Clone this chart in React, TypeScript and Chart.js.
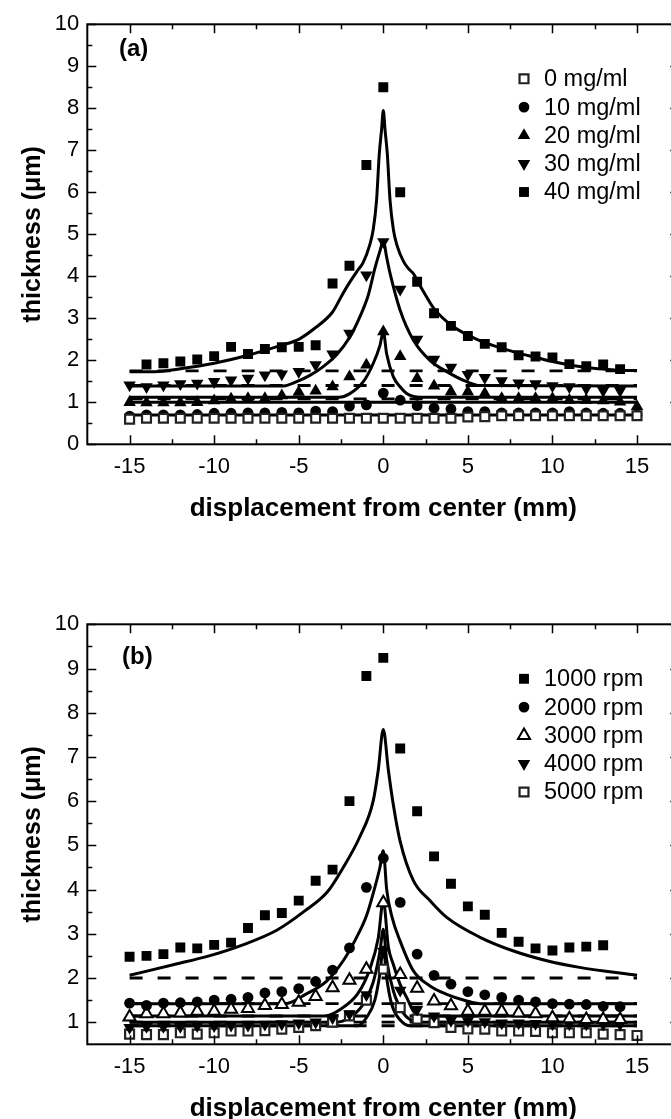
import React, { useEffect, useRef } from 'react';
import { Chart, registerables } from 'chart.js';
Chart.register(...registerables);

const FONT = "'Liberation Sans', Arial, Helvetica, sans-serif";

// ---------- shared axes ----------
const POSITIONS = [-15, -14, -13, -12, -11, -10, -9, -8, -7, -6, -5, -4, -3, -2, -1, 0, 1, 2, 3, 4, 5, 6, 7, 8, 9, 10, 11, 12, 13, 14, 15];
const X_TICKS = [-15, -10, -5, 0, 5, 10, 15];
const X_MINOR = [-12.5, -7.5, -2.5, 2.5, 7.5, 12.5];
const A_Y_TICKS = [0, 1, 2, 3, 4, 5, 6, 7, 8, 9, 10];
const A_Y_MINOR = [0.5, 1.5, 2.5, 3.5, 4.5, 5.5, 6.5, 7.5, 8.5, 9.5];
const B_Y_TICKS = [1, 2, 3, 4, 5, 6, 7, 8, 9, 10];
const B_Y_MINOR = [1.5, 2.5, 3.5, 4.5, 5.5, 6.5, 7.5, 8.5, 9.5];

// ---------- panel (a): measured points ----------
const A_LABELS = ['0 mg/ml', '10 mg/ml', '20 mg/ml', '30 mg/ml', '40 mg/ml'];
const A_0MG = [0.60, 0.62, 0.62, 0.62, 0.62, 0.62, 0.62, 0.62, 0.62, 0.62, 0.62, 0.62, 0.62, 0.62, 0.62, 0.62, 0.62, 0.62, 0.62, 0.62, 0.65, 0.66, 0.68, 0.68, 0.68, 0.68, 0.68, 0.68, 0.68, 0.68, 0.68];
const A_10MG = [0.67, 0.70, 0.70, 0.70, 0.71, 0.74, 0.74, 0.75, 0.75, 0.76, 0.75, 0.79, 0.78, 0.91, 0.94, 1.22, 1.05, 0.92, 0.86, 0.84, 0.78, 0.78, 0.75, 0.75, 0.75, 0.75, 0.78, 0.75, 0.74, 0.74, 0.70];
const A_20MG = [1.00, 0.99, 0.99, 0.99, 1.00, 1.04, 1.08, 1.09, 1.09, 1.16, 1.24, 1.27, 1.37, 1.61, 1.89, 2.68, 2.09, 1.57, 1.39, 1.25, 1.25, 1.21, 1.09, 1.09, 1.09, 1.09, 1.05, 1.05, 1.04, 1.01, 0.90];
const A_30MG = [1.41, 1.37, 1.41, 1.44, 1.45, 1.49, 1.53, 1.57, 1.65, 1.67, 1.73, 1.89, 2.15, 2.64, 4.03, 4.82, 3.69, 2.50, 2.02, 1.83, 1.66, 1.59, 1.51, 1.46, 1.44, 1.39, 1.37, 1.33, 1.28, 1.28, null];
const A_40MG = [null, 1.90, 1.93, 1.97, 2.02, 2.10, 2.32, 2.15, 2.27, 2.31, 2.32, 2.36, 3.83, 4.25, 6.65, 8.50, 6.00, 3.87, 3.12, 2.82, 2.58, 2.39, 2.31, 2.12, 2.09, 2.07, 1.91, 1.86, 1.90, 1.79, null];

// ---------- panel (a): fitted curves ----------
const A_FIT40_X = [-15, -13.5, -12, -10, -8, -6, -5, -4, -3, -2.4, -2, -1.5, -1.2, -0.8, -0.6, -0.4, -0.24, -0.1, 0, 0.1, 0.24, 0.4, 0.6, 0.8, 1.2, 1.5, 1.8, 2, 2.5, 3, 4, 5, 6, 7, 8, 9, 10, 11, 12, 13, 14, 15];
const A_FIT40_Y = [1.73, 1.73, 1.80, 1.93, 2.12, 2.36, 2.50, 2.78, 3.15, 3.58, 3.85, 4.15, 4.32, 4.75, 5.10, 5.80, 6.90, 7.50, 7.95, 7.50, 6.90, 5.80, 5.10, 4.75, 4.35, 4.18, 4.05, 3.90, 3.55, 3.23, 2.84, 2.60, 2.42, 2.29, 2.17, 2.07, 1.97, 1.89, 1.83, 1.79, 1.76, 1.76];
const A_FIT30_X = [-15, -5.9, -5.12, -4.34, -3.55, -2.76, -1.97, -1.38, -0.89, -0.49, -0.2, 0, 0.2, 0.4, 0.99, 1.78, 2.76, 3.75, 4.93, 5.72, 15];
const A_FIT30_Y = [1.39, 1.39, 1.49, 1.64, 1.85, 2.13, 2.56, 3.04, 3.55, 4.20, 4.60, 4.85, 4.45, 4.07, 3.20, 2.48, 2.00, 1.73, 1.49, 1.40, 1.39];
const A_FIT20_X = [-15, -2.6, -2.0, -1.18, -0.59, -0.2, 0, 0.2, 0.59, 0.99, 1.38, 1.78, 2.2, 15];
const A_FIT20_Y = [1.12, 1.12, 1.20, 1.49, 1.93, 2.35, 2.68, 2.15, 1.61, 1.37, 1.21, 1.14, 1.12, 1.12];
const A_FIT10_X = [-15, 15];
const A_FIT10_Y = [1.0, 1.0];
const A_FIT0_X = [-15, 15];
const A_FIT0_Y = [0.70, 0.70];
const A_BASELINES = [1.75, 1.40, 1.08];

// ---------- panel (b): measured points ----------
const B_LABELS = ['1000 rpm', '2000 rpm', '3000 rpm', '4000 rpm', '5000 rpm'];
const B_1000 = [2.48, 2.50, 2.54, 2.69, 2.67, 2.75, 2.80, 3.13, 3.42, 3.47, 3.75, 4.20, 4.45, 6.00, 8.83, 9.24, 7.19, 5.77, 4.75, 4.13, 3.62, 3.43, 3.02, 2.82, 2.67, 2.62, 2.69, 2.71, 2.74, null, null];
const B_2000 = [1.43, 1.38, 1.43, 1.44, 1.46, 1.50, 1.52, 1.56, 1.66, 1.69, 1.76, 1.92, 2.18, 2.68, 4.05, 4.71, 3.71, 2.54, 2.06, 1.86, 1.69, 1.62, 1.56, 1.50, 1.46, 1.42, 1.41, 1.40, 1.36, 1.35, null];
const B_3000 = [1.12, 1.19, 1.19, 1.21, 1.25, 1.25, 1.29, 1.31, 1.38, 1.40, 1.45, 1.58, 1.78, 1.95, 2.20, 3.70, 2.08, 1.77, 1.48, 1.37, 1.25, 1.25, 1.25, 1.21, 1.19, 1.10, 1.08, 1.06, 1.06, 1.06, null];
const B_4000 = [0.88, 0.90, 0.90, 0.90, 0.92, 0.92, 0.93, 0.93, 0.95, 0.96, 0.98, 1.00, 1.10, 1.19, 1.62, 2.60, 1.72, 1.29, 1.14, 1.04, 1.03, 1.01, 0.98, 0.98, 0.97, 0.96, 0.96, 0.96, 0.95, 0.95, null];
const B_5000 = [0.73, 0.72, 0.72, 0.76, 0.73, 0.76, 0.80, 0.80, 0.81, 0.84, 0.88, 0.92, 1.00, 1.14, 1.50, 2.20, 1.33, 1.07, 0.99, 0.88, 0.85, 0.84, 0.80, 0.80, 0.79, 0.76, 0.76, 0.76, 0.73, 0.72, 0.70];

// ---------- panel (b): fitted curves ----------
const B_FIT1000_X = [-15, -12.3, -10.3, -8.3, -6.3, -4.7, -3.3, -2.37, -1.38, -0.6, -0.3, 0, 0.3, 0.6, 0.99, 1.78, 2.76, 3.75, 5.72, 7.7, 9.67, 11.6, 15];
const B_FIT1000_Y = [2.06, 2.31, 2.50, 2.75, 3.08, 3.50, 3.95, 4.50, 5.20, 6.00, 6.70, 7.62, 6.70, 5.90, 5.10, 4.20, 3.75, 3.37, 2.92, 2.61, 2.39, 2.24, 2.06];
const B_FIT2000_X = [-15, -5.8, -4.6, -3.35, -2.37, -1.58, -1.0, -0.5, -0.2, 0, 0.2, 0.5, 0.99, 1.78, 2.76, 3.75, 4.93, 5.72, 15];
const B_FIT2000_Y = [1.42, 1.42, 1.63, 1.93, 2.39, 2.92, 3.40, 4.05, 4.50, 4.88, 4.00, 3.40, 2.84, 2.16, 1.82, 1.63, 1.48, 1.42, 1.42];
const B_FIT3000_X = [-15, -3.5, -2.5, -1.5, -0.8, -0.3, 0, 0.3, 0.59, 1.0, 1.38, 1.78, 2.3, 15];
const B_FIT3000_Y = [1.14, 1.14, 1.30, 1.65, 2.20, 2.90, 3.75, 2.70, 2.31, 1.85, 1.56, 1.25, 1.14, 1.14];
const B_FIT4000_X = [-15, -2.8, -2.0, -1.2, -0.6, -0.2, 0, 0.2, 0.6, 1.2, 1.8, 2.2, 15];
const B_FIT4000_Y = [1.0, 1.0, 1.10, 1.40, 1.90, 2.60, 3.10, 2.40, 1.70, 1.20, 1.02, 1.0, 1.0];
const B_FIT5000_X = [-15, -1.5, -1.0, -0.5, -0.2, 0, 0.2, 0.5, 1.0, 1.6, 15];
const B_FIT5000_Y = [0.92, 0.92, 1.10, 1.50, 2.10, 2.70, 2.00, 1.40, 1.05, 0.92, 0.92];
const B_BASELINES = [2.0, 1.42, 1.14, 1.0, 0.92];

// ---------- marker styles ----------
type Marker = { style: string; r: number; fill: string; stroke: string; lw: number; rot: number };
const M_OPEN_SQ: Marker = { style: 'rect', r: 6.3, fill: '#fff', stroke: '#222', lw: 2.2, rot: 0 };
const M_CIRCLE: Marker = { style: 'circle', r: 5.4, fill: '#000', stroke: '#000', lw: 0, rot: 0 };
const M_UP: Marker = { style: 'triangle', r: 7.2, fill: '#000', stroke: '#000', lw: 0, rot: 0 };
const M_UP_OPEN: Marker = { style: 'triangle', r: 7, fill: '#fff', stroke: '#000', lw: 2, rot: 0 };
const M_DOWN: Marker = { style: 'triangle', r: 7.2, fill: '#000', stroke: '#000', lw: 0, rot: 180 };
const M_SQ: Marker = { style: 'rect', r: 7, fill: '#000', stroke: '#000', lw: 0, rot: 0 };

function scatterDs(label: string, ys: (number | null)[], m: Marker) {
  const data: { x: number; y: number }[] = [];
  POSITIONS.forEach((x, i) => {
    const y = ys[i];
    if (y !== null && y !== undefined) data.push({ x, y });
  });
  return {
    type: 'scatter', label, data, showLine: false,
    pointStyle: m.style, pointRadius: m.r, pointHoverRadius: m.r,
    pointBackgroundColor: m.fill, pointBorderColor: m.stroke,
    pointBorderWidth: m.lw, pointRotation: m.rot, order: 0,
  };
}

function lineDs(xs: number[], ys: number[], dashed: boolean) {
  return {
    type: 'scatter', label: '', data: xs.map((x, i) => ({ x, y: ys[i] })),
    showLine: true, borderColor: '#000', borderWidth: dashed ? 2.8 : 3,
    borderDash: dashed ? [13, 15] : [], pointRadius: 0, pointHoverRadius: 0,
    cubicInterpolationMode: 'monotone', fill: false, order: 1,
  };
}

function drawMarker(ctx: CanvasRenderingContext2D, m: Marker, x: number, y: number) {
  ctx.save();
  ctx.beginPath();
  if (m.style === 'circle') {
    ctx.arc(x, y, m.r, 0, Math.PI * 2);
  } else if (m.style === 'rect') {
    const s = Math.SQRT1_2 * m.r;
    ctx.rect(x - s, y - s, 2 * s, 2 * s);
  } else {
    let rad = (m.rot * Math.PI) / 180;
    for (let k = 0; k < 3; k++) {
      const px = x + Math.sin(rad) * m.r;
      const py = y - Math.cos(rad) * m.r;
      if (k === 0) ctx.moveTo(px, py); else ctx.lineTo(px, py);
      rad += (2 * Math.PI) / 3;
    }
    ctx.closePath();
  }
  ctx.fillStyle = m.fill;
  ctx.fill();
  if (m.lw > 0) {
    ctx.lineWidth = m.lw;
    ctx.strokeStyle = m.stroke;
    ctx.stroke();
  }
  ctx.restore();
}

const framePlugin = {
  id: 'frame',
  afterDatasetsDraw(chart: any, _args: any, opts: any) {
    const { ctx, chartArea: a, scales } = chart;
    const xs = scales.x;
    const ys = scales.y;
    ctx.save();
    ctx.strokeStyle = '#000';
    ctx.lineWidth = 1.5;
    ctx.beginPath();
    const vx = (v: number, len: number) => {
      const p = Math.round(xs.getPixelForValue(v)) + 0.5;
      ctx.moveTo(p, a.bottom); ctx.lineTo(p, a.bottom - len);
      ctx.moveTo(p, a.top); ctx.lineTo(p, a.top + len);
    };
    const vy = (v: number, len: number) => {
      const p = Math.round(ys.getPixelForValue(v)) + 0.5;
      ctx.moveTo(a.left, p); ctx.lineTo(a.left + len, p);
      ctx.moveTo(a.right, p); ctx.lineTo(a.right - len, p);
    };
    X_TICKS.forEach((v) => vx(v, 9));
    X_MINOR.forEach((v) => vx(v, 5));
    opts.yMajor.forEach((v: number) => vy(v, 9));
    opts.yMinor.forEach((v: number) => vy(v, 5));
    ctx.stroke();
    ctx.lineWidth = 2;
    ctx.strokeRect(a.left, a.top, a.right - a.left, a.bottom - a.top);

    // panel label
    ctx.fillStyle = '#000';
    ctx.font = `bold 24px ${FONT}`;
    ctx.textBaseline = 'middle';
    ctx.textAlign = 'left';
    ctx.fillText(opts.panel, opts.panelX, opts.panelY);

    // legend
    ctx.font = `23.5px ${FONT}`;
    opts.legend.forEach((item: { label: string; m: Marker }, i: number) => {
      const y = a.top + 54.5 + i * 28.3;
      drawMarker(ctx, item.m, 524, y);
      ctx.fillStyle = '#000';
      ctx.fillText(item.label, 544, y + 1);
    });
    ctx.restore();
  },
};

function makeConfig(panel: 'a' | 'b') {
  const isA = panel === 'a';
  const markers = isA
    ? [M_OPEN_SQ, M_CIRCLE, M_UP, M_DOWN, M_SQ]
    : [M_SQ, M_CIRCLE, M_UP_OPEN, M_DOWN, M_OPEN_SQ];
  const labels = isA ? A_LABELS : B_LABELS;
  const series = isA ? [A_0MG, A_10MG, A_20MG, A_30MG, A_40MG] : [B_1000, B_2000, B_3000, B_4000, B_5000];
  const fits = isA
    ? [[A_FIT40_X, A_FIT40_Y], [A_FIT30_X, A_FIT30_Y], [A_FIT20_X, A_FIT20_Y], [A_FIT10_X, A_FIT10_Y], [A_FIT0_X, A_FIT0_Y]]
    : [[B_FIT1000_X, B_FIT1000_Y], [B_FIT2000_X, B_FIT2000_Y], [B_FIT3000_X, B_FIT3000_Y], [B_FIT4000_X, B_FIT4000_Y], [B_FIT5000_X, B_FIT5000_Y]];
  const baselines = isA ? A_BASELINES : B_BASELINES;

  const datasets: any[] = [];
  series.forEach((ys, i) => datasets.push(scatterDs(labels[i], ys, markers[i])));
  baselines.forEach((b) => datasets.push(lineDs([-15, 15], [b, b], true)));
  fits.forEach(([xs, ys]) => datasets.push(lineDs(xs as number[], ys as number[], false)));

  const yTicks = isA ? A_Y_TICKS : B_Y_TICKS;
  return {
    type: 'scatter',
    data: { datasets },
    plugins: [framePlugin],
    options: {
      responsive: false,
      devicePixelRatio: 1,
      animation: false,
      events: [],
      layout: { padding: { top: 24.3, right: 20.7, left: 0, bottom: 0 } },
      plugins: {
        legend: { display: false },
        tooltip: { enabled: false },
        frame: {
          panel: isA ? '(a)' : '(b)',
          panelX: isA ? 119 : 122,
          panelY: isA ? 49 : 57,
          yMajor: yTicks,
          yMinor: isA ? A_Y_MINOR : B_Y_MINOR,
          legend: labels.map((l, i) => ({ label: l, m: markers[i] })),
        },
      },
      scales: {
        x: {
          type: 'linear', min: -17.5, max: 17.5,
          afterBuildTicks: (s: any) => { s.ticks = X_TICKS.map((v) => ({ value: v })); },
          afterFit: (s: any) => { s.height = 115.7; },
          grid: { display: false, drawTicks: false },
          border: { display: false },
          ticks: { padding: 9, color: '#000', autoSkip: false, maxRotation: 0, font: { family: FONT, size: 22 }, callback: (v: any) => String(v) },
          title: { display: true, text: 'displacement from center (mm)', color: '#000', font: { family: FONT, size: 26, weight: 'bold' }, padding: { top: 0, bottom: 36 } },
        },
        y: {
          type: 'linear', min: isA ? 0 : 0.5, max: 10,
          afterBuildTicks: (s: any) => { s.ticks = yTicks.map((v) => ({ value: v })); },
          afterFit: (s: any) => { s.width = 87.3; },
          grid: { display: false, drawTicks: false },
          border: { display: false },
          ticks: { padding: 8, color: '#000', autoSkip: false, font: { family: FONT, size: 22 }, callback: (v: any) => String(v) },
          title: { display: true, text: 'thickness (μm)', color: '#000', font: { family: FONT, size: 25, weight: 'bold' }, padding: { top: 18, bottom: 0 } },
        },
      },
    },
  };
}

function Panel({ panel, top }: { panel: 'a' | 'b'; top: number }) {
  const ref = useRef<HTMLCanvasElement | null>(null);
  useEffect(() => {
    if (!ref.current) return;
    const chart = new Chart(ref.current, makeConfig(panel) as any);
    return () => chart.destroy();
  }, [panel]);
  return (
    <canvas ref={ref} width={700} height={560}
      style={{ position: 'absolute', left: 0, top, width: 700, height: 560 }} />
  );
}

export default function App() {
  return (
    <div style={{ position: 'absolute', left: 0, top: 0, width: 671, height: 1119, overflow: 'hidden', background: '#fff' }}>
      <Panel panel="a" top={0} />
      <Panel panel="b" top={600} />
    </div>
  );
}
